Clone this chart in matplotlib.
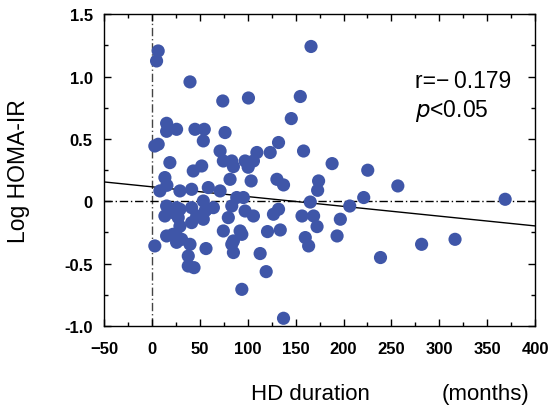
import numpy as np
import matplotlib
matplotlib.use("Agg")
from matplotlib import pyplot as plt
from matplotlib.ticker import MultipleLocator

# HD duration (months) and Log HOMA-IR
hd_months = [
    6.6, 4.9, 39.8, 166.1, 74.0, 100.8, 154.9, 145.5, 15.4, 25.8,
    15.4, 45.0, 54.7, 76.4, 53.7, 3.1, 6.6, 71.2, 74.6, 83.4,
    18.8, 52.0, 43.2, 13.6, 81.6, 8.4, 29.3, 41.5, 58.9, 71.2,
    88.6, 132.2, 109.6, 123.5, 97.3, 106.0, 158.3, 188.1, 103.6, 130.5,
    137.4, 174.0, 173.0, 165.3, 95.5, 225.3, 256.7, 368.7, 221.1, 15.7,
    85.1, 15.4, 25.8, 41.5, 53.7, 57.2, 64.2, 29.3, 13.6, 27.5,
    55.5, 53.7, 41.5, 83.4, 97.3, 79.8, 106.0, 132.2, 126.9, 156.7,
    168.8, 196.7, 172.4, 160.1, 163.6, 193.3, 120.7, 134.0, 113.0, 119.3,
    93.9, 137.4, 74.6, 85.1, 92.1, 93.9, 83.4, 85.1, 15.4, 25.8,
    31.1, 25.8, 3.1, 39.8, 56.5, 38.0, 38.0, 44.0, 238.6, 281.5,
    316.4, 206.5, 29.3, 22.0, 100.5, 22.3, 46.8,
]
log_homa = [
    1.205, 1.125, 0.957, 1.241, 0.804, 0.828, 0.840, 0.663, 0.625, 0.577,
    0.561, 0.577, 0.577, 0.551, 0.484, 0.443, 0.457, 0.403, 0.323, 0.323,
    0.310, 0.283, 0.243, 0.190, 0.176, 0.083, 0.083, 0.096, 0.110, 0.083,
    0.030, 0.471, 0.391, 0.391, 0.323, 0.323, 0.403, 0.302, 0.163, 0.176,
    0.131, 0.163, 0.088, -0.006, 0.030, 0.249, 0.123, 0.016, 0.030, 0.128,
    0.278, -0.038, -0.051, -0.051, 0.002, -0.064, -0.051, -0.064, -0.118, -0.131,
    -0.078, -0.144, -0.171, -0.038, -0.078, -0.131, -0.118, -0.064, -0.104, -0.118,
    -0.118, -0.144, -0.203, -0.291, -0.358, -0.278, -0.243, -0.230, -0.419, -0.564,
    -0.706, -0.938, -0.238, -0.318, -0.238, -0.265, -0.345, -0.411, -0.278, -0.278,
    -0.305, -0.329, -0.358, -0.345, -0.379, -0.439, -0.519, -0.532, -0.451, -0.345,
    -0.305, -0.038, -0.200, -0.265, 0.273, -0.091, -0.118,
]

# regression line as drawn in the figure
fit_intercept = 0.116
fit_slope = -0.000784

x_ticks = [-50, 0, 50, 100, 150, 200, 250, 300, 350, 400]
x_labels = ["\u221250", "0", "50", "100", "150", "200", "250", "300", "350", "400"]
y_ticks = [-1.0, -0.5, 0, 0.5, 1.0, 1.5]
y_labels = ["-1.0", "-0.5", "0", "0.5", "1.0", "1.5"]

plt.rcParams["font.family"] = ["Liberation Sans", "DejaVu Sans"]

fig = plt.figure(figsize=(5.5, 4.1), dpi=100)
ax = fig.add_axes([0.189, 0.2024, 0.784, 0.7606])

ax.axvline(0, color="#444444", lw=1.0, ls=(0, (6, 2, 1, 2)), zorder=1)
ax.axhline(0, color="black", lw=1.0, ls=(0, (6, 2, 1, 2)), zorder=1)

xl = np.array([-50, 400])
ax.plot(xl, fit_intercept + fit_slope * xl, color="black", lw=1.0, zorder=2)

ax.scatter(hd_months, log_homa, s=90, color="#3F56A8", edgecolors="none", zorder=3)

ax.set_xlim(-50, 400)
ax.set_ylim(-1.0, 1.5)
ax.set_xticks(x_ticks)
ax.set_xticklabels(x_labels, fontsize=12, fontweight="bold")
ax.set_yticks(y_ticks)
ax.set_yticklabels(y_labels, fontsize=12, fontweight="bold")
ax.xaxis.set_minor_locator(MultipleLocator(25))
ax.yaxis.set_minor_locator(MultipleLocator(0.25))
ax.tick_params(which="both", direction="in", top=True, right=True)
ax.tick_params(axis="x", which="major", length=5, width=1, pad=11)
ax.tick_params(axis="y", which="major", length=5, width=1, pad=8)
ax.tick_params(which="minor", length=3, width=1)
for sp in ax.spines.values():
    sp.set_linewidth(1.0)

ax.set_ylabel("Log HOMA-IR", fontsize=16.5)
ax.yaxis.set_label_coords(-0.172, 0.5)
fig.text(0.564, 0.037, "HD duration", fontsize=16, ha="center", va="center")
fig.text(0.882, 0.037, "(months)", fontsize=16, ha="center", va="center")

ax.text(0.722, 0.765, "r=\u2212\u20090.179", transform=ax.transAxes, fontsize=16.5)
ax.text(0.722, 0.675, "$\\mathit{p}$<0.05", transform=ax.transAxes, fontsize=16.5)

fig.savefig("out.png", dpi=100)
